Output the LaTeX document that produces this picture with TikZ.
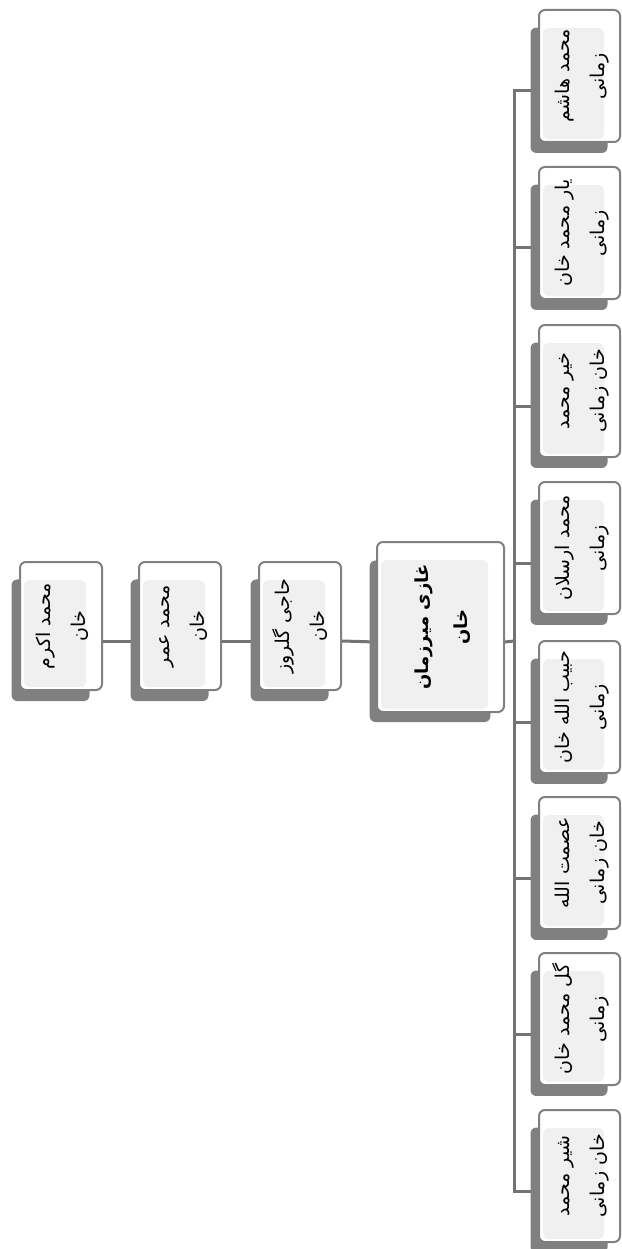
\documentclass[tikz,border=0pt]{standalone}
\usepackage{fontspec}
\usepackage{graphicx}
\usepackage{tikz}
\usetikzlibrary{shadows,backgrounds}
\newfontfamily\farsi[Script=Arabic]{DejaVu Sans}
\TeXXeTstate=1

\tikzset{
  person/.style={draw=black!50, line width=2pt, rounded corners=6pt, fill=white,
    minimum width=81pt, minimum height=132pt, inner sep=0pt,
    drop shadow={shadow xshift=-11pt, shadow yshift=-15pt, shadow scale=0.95, fill=black!50, opacity=1},
    path picture={\fill[black!6] ([xshift=4pt,yshift=3pt]path picture bounding box.south west) rectangle ([xshift=-16pt,yshift=-18pt]path picture bounding box.north east);},
    font=\farsi\fontsize{19}{35}\selectfont},
  ancestor/.style={person, minimum width=82pt, minimum height=128pt},
  rootperson/.style={person, minimum width=127pt, minimum height=170pt,
    font=\farsi\bfseries\fontsize{18}{39}\selectfont},
  link/.style={draw=black!55, line width=3pt}
}
\newcommand{\twolines}[2]{\rotatebox{90}{\begin{tabular}{@{}c@{}}#1\\#2\end{tabular}}}

\begin{document}
\begin{tikzpicture}[x=1pt, y=-1pt]
% albero di famiglia, ruotato: antenati a sinistra, figli a destra
\useasboundingbox (0,0) rectangle (621,1249);

\node[ancestor] (akram) at (61,626) {\twolines{\beginR محمد اکرم\endR}{\beginR خان\endR}};
\node[ancestor] (omar) at (180,626) {\twolines{\beginR محمد عمر\endR}{\beginR خان\endR}};
\node[ancestor] (golroz) at (300,626) {\twolines{\beginR حاجی گلروز\endR}{\beginR خان\endR}};

\node[rootperson] (ghazi) at (440.5,627) {\twolines{\beginR غازی میرزمان\endR}{\beginR خان\endR}};

\node[person] (hashem) at (579.5,76) {\twolines{\beginR محمد هاشم\endR}{\beginR زمانی\endR}};
\node[person] (yar) at (579.5,233) {\twolines{\beginR یار محمد خان\endR}{\beginR زمانی\endR}};
\node[person] (khair) at (579.5,391) {\twolines{\beginR خیر محمد\endR}{\beginR خان زمانی\endR}};
\node[person] (arsalan) at (579.5,548) {\twolines{\beginR محمد ارسلان\endR}{\beginR زمانی\endR}};
\node[person] (habib) at (579.5,707) {\twolines{\beginR حبیب الله خان\endR}{\beginR زمانی\endR}};
\node[person] (esmat) at (579.5,863) {\twolines{\beginR عصمت الله\endR}{\beginR خان زمانی\endR}};
\node[person] (gul) at (579.5,1019) {\twolines{\beginR گل محمد خان\endR}{\beginR زمانی\endR}};
\node[person] (sher) at (579.5,1176) {\twolines{\beginR شیر محمد\endR}{\beginR خان زمانی\endR}};

\coordinate (bus) at (514,641);

\begin{pgfonlayer}{background}
\draw[link] ([yshift=-15pt]akram.east) -- ([yshift=-15pt]omar.west);
\draw[link] ([yshift=-15pt]omar.east) -- ([yshift=-15pt]golroz.west);
\draw[link] ([yshift=-15pt]golroz.east) -- ([yshift=-15pt]ghazi.west);
\draw[link] ([yshift=-15pt]ghazi.east) -- (bus);

\draw[link] ([yshift=-15pt]hashem.west) -| (bus);
\draw[link] ([yshift=-15pt]yar.west) -| (bus);
\draw[link] ([yshift=-15pt]khair.west) -| (bus);
\draw[link] ([yshift=-15pt]arsalan.west) -| (bus);
\draw[link] ([yshift=-15pt]habib.west) -| (bus);
\draw[link] ([yshift=-15pt]esmat.west) -| (bus);
\draw[link] ([yshift=-15pt]gul.west) -| (bus);
\draw[link] ([yshift=-15pt]sher.west) -| (bus);
\end{pgfonlayer}

\end{tikzpicture}
\end{document}
